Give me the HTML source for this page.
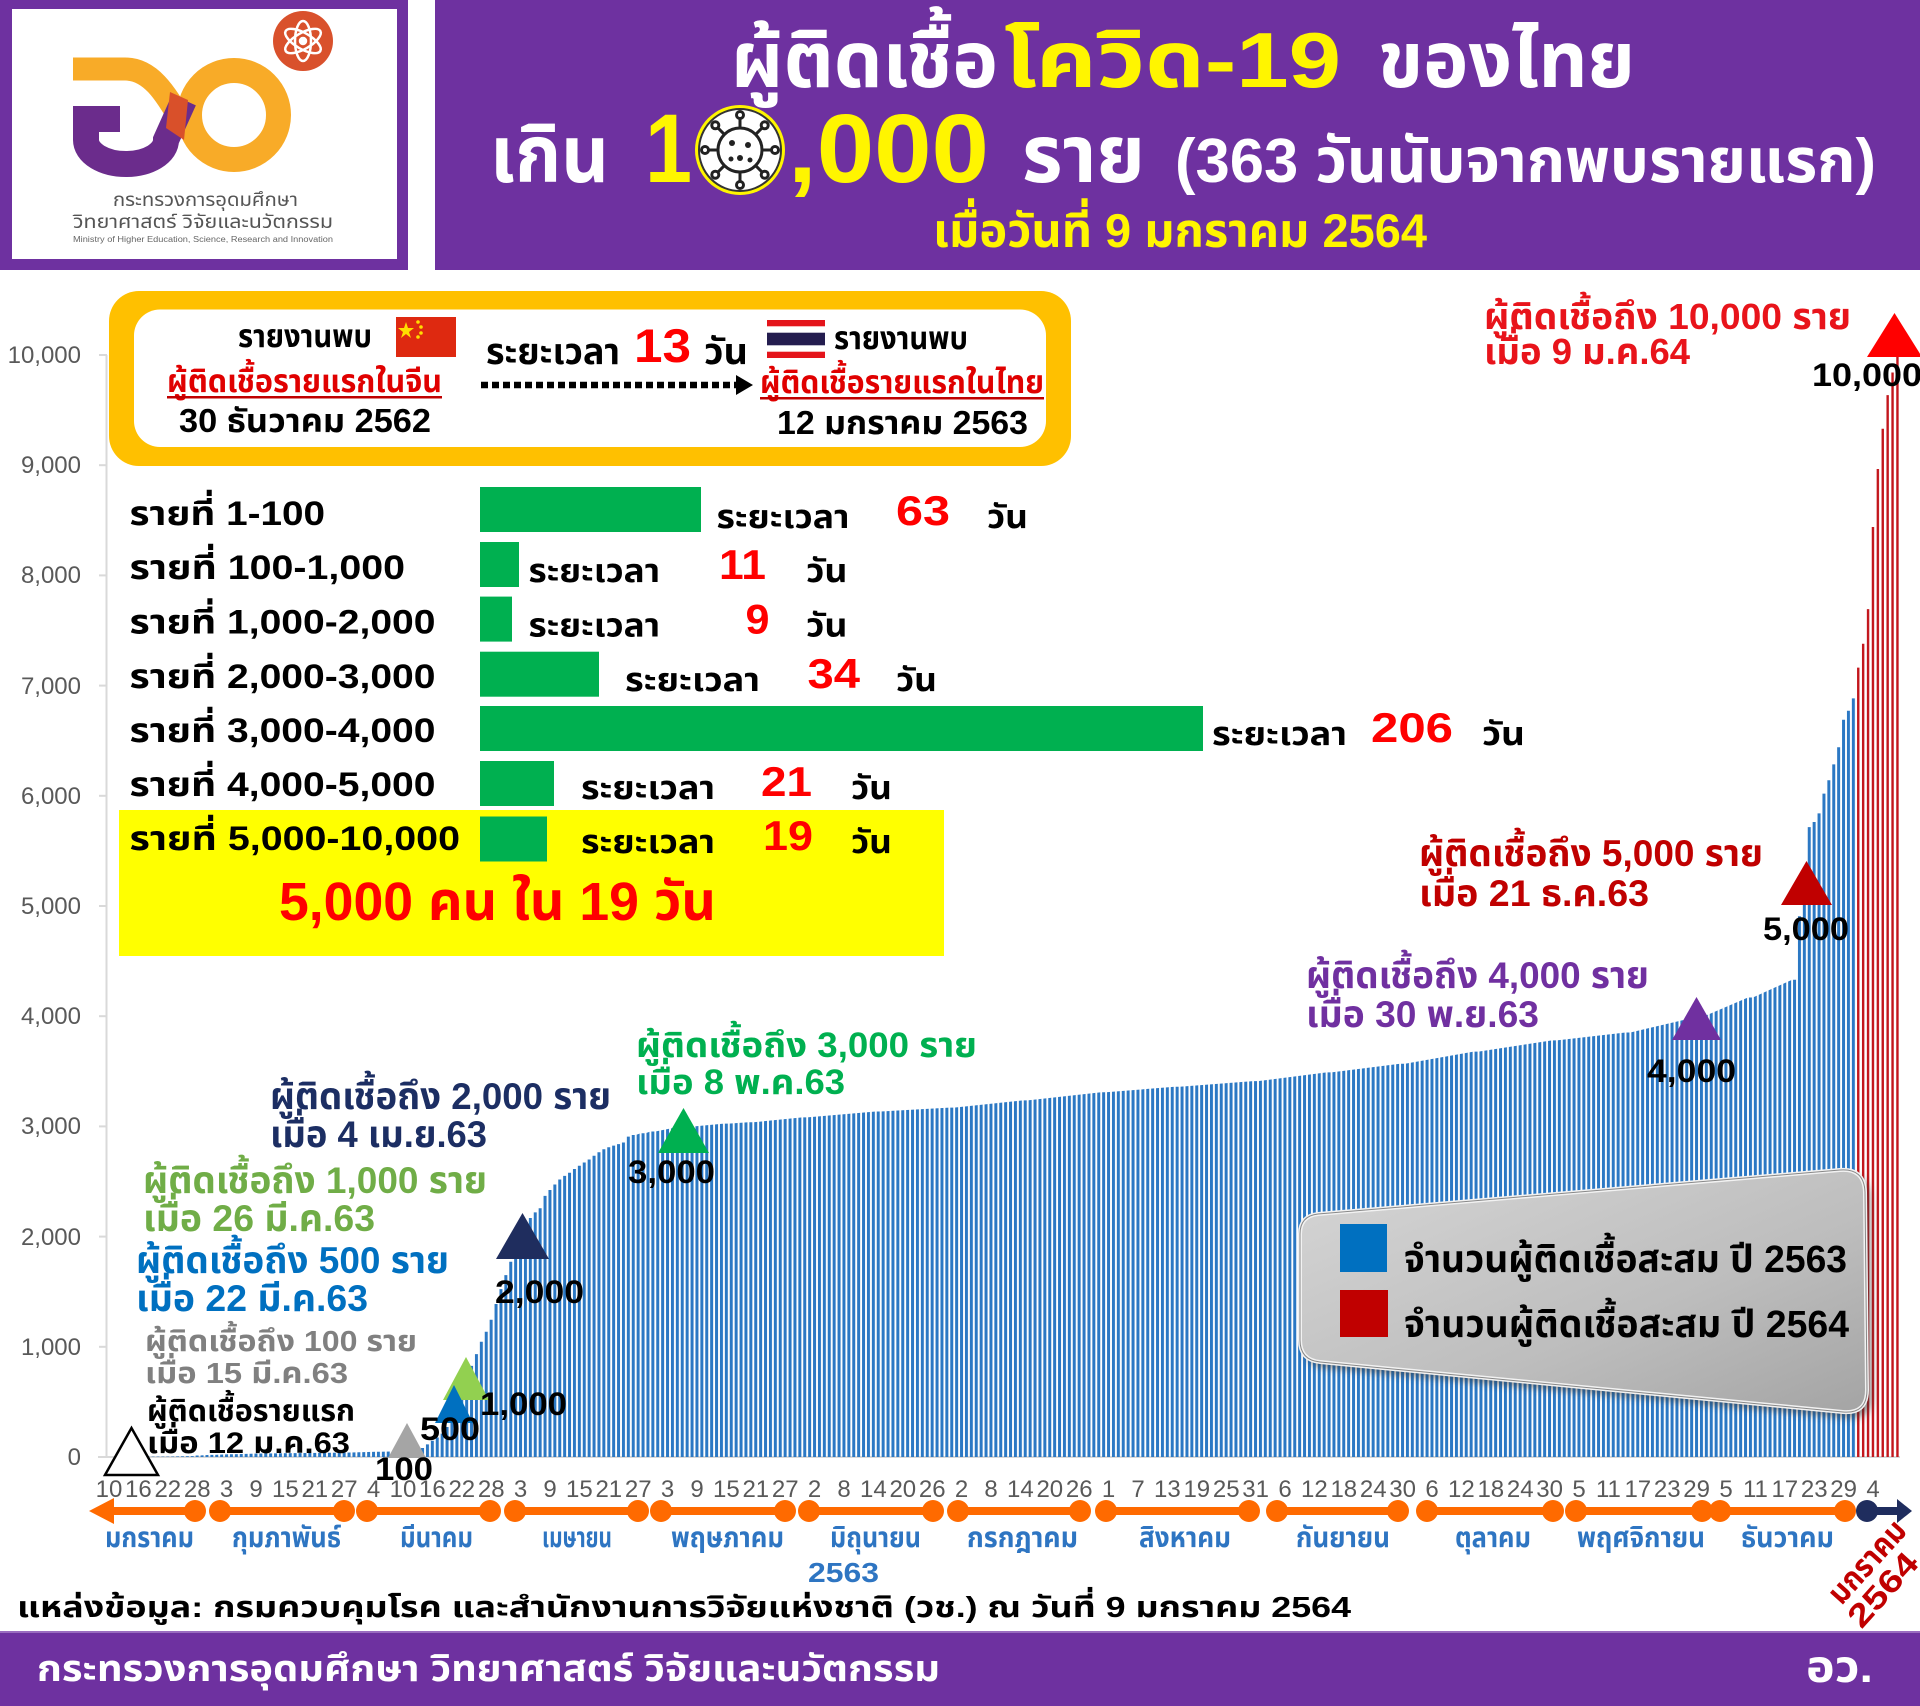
<!DOCTYPE html>
<html><head><meta charset="utf-8">
<style>
html,body{margin:0;padding:0;background:#fff;}
svg{display:block;font-family:"Liberation Sans","Noto Sans Thai","Noto Sans Thai UI","Loma","Garuda","Waree","Kinnari","Norasi","Tlwg Typo","DejaVu Sans",sans-serif;}
</style></head><body>
<svg width="1920" height="1706" viewBox="0 0 1920 1706" xmlns="http://www.w3.org/2000/svg">
<defs>
<pattern id="pb" patternUnits="userSpaceOnUse" x="107.45" y="0" width="4.9" height="1706"><rect x="0" y="0" width="3" height="1706" fill="#2B78C4"/></pattern>
<pattern id="pr" patternUnits="userSpaceOnUse" x="107.75" y="0" width="4.9" height="1706"><rect x="0" y="0" width="2.4" height="1706" fill="#C3161C"/></pattern>
<linearGradient id="lg" x1="0" y1="0" x2="1" y2="1"><stop offset="0" stop-color="#D6D6D6"/><stop offset="0.6" stop-color="#BDBDBD"/><stop offset="1" stop-color="#A4A4A4"/></linearGradient>
<filter id="sh" x="-10%" y="-10%" width="120%" height="130%"><feGaussianBlur stdDeviation="4"/></filter>
</defs>

<!-- HEADER -->
<rect x="0" y="0" width="1920" height="270" fill="#6E31A0"/>
<rect x="408" y="0" width="27" height="272" fill="#fff"/>
<rect x="12" y="9" width="385" height="250" fill="#fff"/>
<!-- logo mark -->
<circle cx="234" cy="115" r="44.5" fill="none" stroke="#F8AB28" stroke-width="25"/>
<path d="M73,69 H125 C150,69 165,92 182,122" fill="none" stroke="#F8AB28" stroke-width="23"/>
<path d="M120,119 H86 V140 A40,24 0 0 0 166,140 L184,100" fill="none" stroke="#6B2C8C" stroke-width="26"/>
<polygon points="170,92 188,100 184,140 166,128" fill="#D9502A"/>
<circle cx="303" cy="41" r="30" fill="#D9512C"/>
<g transform="translate(303,41)" fill="none" stroke="#fff" stroke-width="2.5">
<ellipse rx="8" ry="20"/><ellipse rx="8" ry="20" transform="rotate(60)"/><ellipse rx="8" ry="20" transform="rotate(-60)"/>
<circle r="3" fill="#fff"/>
</g>
<text x="113" y="206" font-size="19" fill="#555" textLength="185" lengthAdjust="spacingAndGlyphs">กระทรวงการอุดมศึกษา</text>
<text x="73" y="228" font-size="19" fill="#555" textLength="260" lengthAdjust="spacingAndGlyphs">วิทยาศาสตร์ วิจัยและนวัตกรรม</text>
<text x="73" y="242" font-size="8" fill="#666" textLength="260" lengthAdjust="spacingAndGlyphs">Ministry of Higher Education, Science, Research and Innovation</text>

<g font-weight="bold">
<text x="731" y="87" font-size="78" fill="#fff" textLength="267" lengthAdjust="spacingAndGlyphs">ผู้ติดเชื้อ</text>
<text x="1004" y="87" font-size="78" fill="#FFF500" textLength="337" lengthAdjust="spacingAndGlyphs">โควิด-19</text>
<text x="1378" y="87" font-size="78" fill="#fff" textLength="257" lengthAdjust="spacingAndGlyphs">ของไทย</text>
<text x="490" y="182" font-size="80" fill="#fff" textLength="119" lengthAdjust="spacingAndGlyphs">เกิน</text>
<text x="645" y="182" font-size="97" fill="#FFF500" textLength="47" lengthAdjust="spacingAndGlyphs">1</text>
<text x="788" y="182" font-size="97" fill="#FFF500" textLength="201" lengthAdjust="spacingAndGlyphs">,000</text>
<text x="1022" y="182" font-size="80" fill="#fff" textLength="123" lengthAdjust="spacingAndGlyphs">ราย</text>
<text x="1175" y="182" font-size="62" fill="#fff" textLength="701" lengthAdjust="spacingAndGlyphs">(363 วันนับจากพบรายแรก)</text>
<text x="933" y="247" font-size="47" fill="#FFF500" textLength="494" lengthAdjust="spacingAndGlyphs">เมื่อวันที่ 9 มกราคม 2564</text>
</g>
<!-- virus icon -->
<g transform="translate(740,150)">
<circle r="45" fill="#FFF500"/>
<circle r="41" fill="#fff" stroke="#333" stroke-width="2"/>
<circle r="22" fill="none" stroke="#222" stroke-width="3"/>
<g stroke="#222" stroke-width="3" fill="#fff">
<line x1="0" y1="-22" x2="0" y2="-33"/><line x1="0" y1="22" x2="0" y2="33"/>
<line x1="-22" y1="0" x2="-33" y2="0"/><line x1="22" y1="0" x2="33" y2="0"/>
<line x1="15.6" y1="15.6" x2="23.3" y2="23.3"/><line x1="-15.6" y1="15.6" x2="-23.3" y2="23.3"/>
<line x1="15.6" y1="-15.6" x2="23.3" y2="-23.3"/><line x1="-15.6" y1="-15.6" x2="-23.3" y2="-23.3"/>
<circle cx="0" cy="-35" r="3.5"/><circle cx="0" cy="35" r="3.5"/><circle cx="-35" cy="0" r="3.5"/><circle cx="35" cy="0" r="3.5"/>
<circle cx="24.7" cy="24.7" r="3.5"/><circle cx="-24.7" cy="24.7" r="3.5"/><circle cx="24.7" cy="-24.7" r="3.5"/><circle cx="-24.7" cy="-24.7" r="3.5"/>
</g>
<g fill="#222"><circle cx="-8" cy="-7" r="3"/><circle cx="8" cy="-5" r="3"/><circle cx="0" cy="8" r="3"/><circle cx="-9" cy="9" r="2.5"/><circle cx="10" cy="10" r="2.5"/></g>
</g>

<!-- AXES -->
<line x1="106.5" y1="355" x2="106.5" y2="1457" stroke="#D9D9D9" stroke-width="2"/>
<line x1="98" y1="1457" x2="1900" y2="1457" stroke="#D9D9D9" stroke-width="2"/>
<g stroke="#D9D9D9" stroke-width="2">
<line x1="99" y1="1346.8" x2="107" y2="1346.8"/><line x1="99" y1="1236.6" x2="107" y2="1236.6"/>
<line x1="99" y1="1126.4" x2="107" y2="1126.4"/><line x1="99" y1="1016.2" x2="107" y2="1016.2"/>
<line x1="99" y1="906" x2="107" y2="906"/><line x1="99" y1="795.8" x2="107" y2="795.8"/>
<line x1="99" y1="685.6" x2="107" y2="685.6"/><line x1="99" y1="575.4" x2="107" y2="575.4"/>
<line x1="99" y1="465.2" x2="107" y2="465.2"/><line x1="99" y1="355" x2="107" y2="355"/>
</g>
<g font-size="24" fill="#595959" text-anchor="end">
<text x="81" y="1465">0</text>
<text x="81" y="1355">1,000</text>
<text x="81" y="1245">2,000</text>
<text x="81" y="1134">3,000</text>
<text x="81" y="1024">4,000</text>
<text x="81" y="914">5,000</text>
<text x="81" y="804">6,000</text>
<text x="81" y="694">7,000</text>
<text x="81" y="583">8,000</text>
<text x="81" y="473">9,000</text>
<text x="81" y="363">10,000</text>
</g>

<!-- BARS -->
<path fill="url(#pb)" d="M106.5,1457 L116.3,1457 L116.3,1456.9 L121.2,1456.9 L121.2,1456.8 L126.1,1456.8 L165.3,1456.6 L170.2,1456.6 L189.8,1456.1 L194.7,1456.1 L194.7,1455.5 L199.6,1455.5 L209.4,1454.9 L214.3,1454.9 L229,1454.2 L233.9,1454.2 L258.4,1453.5 L263.3,1453.5 L292.7,1453.1 L297.6,1453.1 L341.7,1452.6 L346.6,1452.6 L376,1451.8 L380.9,1451.8 L400.5,1451.2 L405.4,1451.2 L410.3,1449.3 L415.2,1449.3 L415.2,1448.7 L420.1,1448.7 L420.1,1448 L425,1448 L425,1444.4 L429.9,1444.4 L429.9,1440.8 L434.8,1440.8 L434.8,1437.5 L439.7,1437.5 L439.7,1433.6 L444.6,1433.6 L444.6,1427 L449.5,1427 L449.5,1421.5 L454.4,1421.5 L454.4,1411.7 L459.3,1411.7 L459.3,1391 L464.2,1391 L464.2,1377.5 L469.1,1377.5 L469.1,1365.9 L474,1365.9 L474,1354.1 L478.9,1354.1 L478.9,1341.8 L483.8,1341.8 L483.8,1331.8 L488.7,1331.8 L488.7,1319.8 L493.6,1319.8 L493.6,1304 L498.5,1304 L498.5,1289.1 L503.4,1289.1 L503.4,1275.1 L508.3,1275.1 L508.3,1261.8 L513.2,1261.8 L513.2,1250.4 L518.1,1250.4 L518.1,1239 L523,1239 L523,1229.2 L527.9,1229.2 L527.9,1218 L532.8,1218 L532.8,1212.4 L537.7,1212.4 L537.7,1208.2 L542.6,1208.2 L542.6,1195.9 L547.5,1195.9 L547.5,1190 L552.4,1190 L552.4,1184.5 L557.3,1184.5 L557.3,1179.5 L562.2,1179.5 L562.2,1175.9 L567.1,1175.9 L567.1,1172.8 L572,1172.8 L572,1169 L576.9,1169 L576.9,1165.7 L581.8,1165.7 L581.8,1162.5 L586.7,1162.5 L586.7,1159.5 L591.6,1159.5 L591.6,1155.8 L596.5,1155.8 L596.5,1152.3 L601.4,1152.3 L601.4,1149.3 L606.3,1149.3 L606.3,1147.2 L611.2,1147.2 L611.2,1145.6 L616.1,1145.6 L616.1,1144.1 L621,1144.1 L621,1142.5 L625.9,1142.5 L625.9,1136.6 L630.8,1136.6 L630.8,1135 L635.7,1135 L640.6,1133.2 L645.5,1133.2 L650.4,1131.5 L655.3,1131.5 L674.9,1127.6 L679.8,1127.6 L689.6,1126.4 L694.5,1126.4 L723.9,1123.6 L728.8,1123.6 L748.4,1122.3 L753.3,1122.3 L802.3,1117.4 L807.2,1117.4 L875.8,1111.5 L880.7,1111.5 L949.3,1107.6 L954.2,1107.6 L1022.8,1100.4 L1027.7,1100.4 L1101.2,1092.2 L1106.1,1092.2 L1174.7,1086.8 L1179.6,1086.8 L1253.1,1081.1 L1258,1081.1 L1326.6,1072.4 L1331.5,1072.4 L1400.1,1063.7 L1405,1063.7 L1473.6,1051.6 L1478.5,1051.6 L1552,1040.4 L1556.9,1040.4 L1625.5,1032.5 L1630.4,1032.5 L1699,1016.4 L1703.9,1016.4 L1748,997.5 L1752.9,997.5 L1792.1,979.7 L1797,979.7 L1797,916.2 L1801.9,916.2 L1801.9,874.2 L1806.8,874.2 L1806.8,827.1 L1811.7,827.1 L1811.7,822 L1816.6,822 L1816.6,813.4 L1821.5,813.4 L1821.5,793.6 L1826.4,793.6 L1826.4,780.3 L1831.3,780.3 L1831.3,764.4 L1836.2,764.4 L1836.2,747.3 L1841.1,747.3 L1841.1,719.8 L1846,719.8 L1846,710.7 L1850.9,710.7 L1850.9,698.4 L1855.8,698.4 L1855.8,1457 Z"/>
<path fill="url(#pr)" d="M1855.8,1457 L1855.8,667.6 L1860.7,667.6 L1860.7,643.8 L1865.6,643.8 L1865.6,609.1 L1870.5,609.1 L1870.5,527 L1875.4,527 L1875.4,469 L1880.3,469 L1880.3,428.7 L1885.2,428.7 L1885.2,395.1 L1890.1,395.1 L1890.1,372.5 L1895,372.5 L1895,349.2 L1899.9,349.2 L1899.9,1457 Z"/>

<!-- INFO BOX -->
<rect x="109" y="291" width="962" height="175" rx="30" fill="#FFC000"/>
<rect x="134" y="309.5" width="912" height="137.5" rx="26" fill="#fff"/>
<g font-weight="bold">
<text x="238" y="347" font-size="32" fill="#000" textLength="134" lengthAdjust="spacingAndGlyphs">รายงานพบ</text>
<text x="167" y="392" font-size="32" fill="#E00000" textLength="275" lengthAdjust="spacingAndGlyphs">ผู้ติดเชื้อรายแรกในจีน</text>
<text x="179" y="432" font-size="33" fill="#000" textLength="252" lengthAdjust="spacingAndGlyphs">30 ธันวาคม 2562</text>
<text x="486" y="364" font-size="36" fill="#000" textLength="134" lengthAdjust="spacingAndGlyphs">ระยะเวลา</text>
<text x="634" y="362" font-size="47" fill="#FF0000" textLength="57" lengthAdjust="spacingAndGlyphs">13</text>
<text x="704" y="364" font-size="36" fill="#000" textLength="44" lengthAdjust="spacingAndGlyphs">วัน</text>
<text x="834" y="349" font-size="32" fill="#000" textLength="134" lengthAdjust="spacingAndGlyphs">รายงานพบ</text>
<text x="760" y="393" font-size="32" fill="#E00000" textLength="284" lengthAdjust="spacingAndGlyphs">ผู้ติดเชื้อรายแรกในไทย</text>
<text x="777" y="434" font-size="33" fill="#000" textLength="251" lengthAdjust="spacingAndGlyphs">12 มกราคม 2563</text>
</g>
<rect x="167" y="396" width="275" height="2.5" fill="#C00000"/>
<rect x="760" y="397" width="284" height="2.5" fill="#C00000"/>
<!-- flags -->
<rect x="396" y="317" width="60" height="40" fill="#DE2910"/>
<polygon points="406,322 408,328 414,328 409,332 411,338 406,334 401,338 403,332 398,328 404,328" fill="#FFDE00"/>
<circle cx="418" cy="322" r="1.8" fill="#FFDE00"/><circle cx="421" cy="327" r="1.8" fill="#FFDE00"/><circle cx="421" cy="333" r="1.8" fill="#FFDE00"/><circle cx="418" cy="337" r="1.8" fill="#FFDE00"/>
<rect x="767" y="320" width="58" height="38" fill="#fff"/>
<rect x="767" y="320" width="58" height="6.3" fill="#E4141B"/>
<rect x="767" y="332.7" width="58" height="12.6" fill="#241D4F"/>
<rect x="767" y="351.7" width="58" height="6.3" fill="#E4141B"/>
<!-- dotted arrow -->
<line x1="481" y1="385" x2="738" y2="385" stroke="#000" stroke-width="6.5" stroke-dasharray="7 4"/>
<polygon points="736,375 753,385 736,395" fill="#000"/>

<!-- ROWS -->
<rect x="119" y="810" width="825" height="146" fill="#FFFF00"/>
<g fill="#00B050">
<rect x="480" y="487" width="221" height="45"/>
<rect x="480" y="542" width="39" height="45"/>
<rect x="480" y="596.6" width="32" height="45"/>
<rect x="480" y="651.7" width="119" height="45"/>
<rect x="480" y="706" width="723" height="45"/>
<rect x="480" y="761" width="74" height="45"/>
<rect x="480" y="816.5" width="67" height="45"/>
</g>
<g font-weight="bold" font-size="34" fill="#000">
<text x="129.5" y="525" textLength="195.5" lengthAdjust="spacingAndGlyphs">รายที่ 1-100</text>
<text x="129.5" y="579" textLength="275.5" lengthAdjust="spacingAndGlyphs">รายที่ 100-1,000</text>
<text x="129.5" y="633.5" textLength="306" lengthAdjust="spacingAndGlyphs">รายที่ 1,000-2,000</text>
<text x="129.5" y="688" textLength="306" lengthAdjust="spacingAndGlyphs">รายที่ 2,000-3,000</text>
<text x="129.5" y="742" textLength="306" lengthAdjust="spacingAndGlyphs">รายที่ 3,000-4,000</text>
<text x="129.5" y="796" textLength="306" lengthAdjust="spacingAndGlyphs">รายที่ 4,000-5,000</text>
<text x="129.5" y="850" textLength="330.5" lengthAdjust="spacingAndGlyphs">รายที่ 5,000-10,000</text>
</g>
<g font-weight="bold" font-size="33" fill="#000">
<text x="716.5" y="528" textLength="133" lengthAdjust="spacingAndGlyphs">ระยะเวลา</text>
<text x="987" y="528" textLength="41" lengthAdjust="spacingAndGlyphs">วัน</text>
<text x="528.5" y="582" textLength="131.5" lengthAdjust="spacingAndGlyphs">ระยะเวลา</text>
<text x="806" y="582" textLength="41.5" lengthAdjust="spacingAndGlyphs">วัน</text>
<text x="528.5" y="636.5" textLength="131.5" lengthAdjust="spacingAndGlyphs">ระยะเวลา</text>
<text x="806" y="636.5" textLength="41.5" lengthAdjust="spacingAndGlyphs">วัน</text>
<text x="625" y="691" textLength="135" lengthAdjust="spacingAndGlyphs">ระยะเวลา</text>
<text x="896" y="691" textLength="41" lengthAdjust="spacingAndGlyphs">วัน</text>
<text x="1212" y="745" textLength="135" lengthAdjust="spacingAndGlyphs">ระยะเวลา</text>
<text x="1482" y="745" textLength="43" lengthAdjust="spacingAndGlyphs">วัน</text>
<text x="581" y="799" textLength="134" lengthAdjust="spacingAndGlyphs">ระยะเวลา</text>
<text x="851" y="799" textLength="41" lengthAdjust="spacingAndGlyphs">วัน</text>
<text x="581" y="853" textLength="134" lengthAdjust="spacingAndGlyphs">ระยะเวลา</text>
<text x="851" y="853" textLength="41" lengthAdjust="spacingAndGlyphs">วัน</text>
</g>
<g font-weight="bold" font-size="42" fill="#FF0000">
<text x="896" y="525" textLength="54" lengthAdjust="spacingAndGlyphs">63</text>
<text x="719" y="579" textLength="47" lengthAdjust="spacingAndGlyphs">11</text>
<text x="745.5" y="633.5" textLength="24" lengthAdjust="spacingAndGlyphs">9</text>
<text x="807.5" y="688" textLength="52.5" lengthAdjust="spacingAndGlyphs">34</text>
<text x="1371" y="742" textLength="82" lengthAdjust="spacingAndGlyphs">206</text>
<text x="761" y="796" textLength="51" lengthAdjust="spacingAndGlyphs">21</text>
<text x="763" y="850" textLength="50" lengthAdjust="spacingAndGlyphs">19</text>
</g>
<text x="279" y="920" font-weight="bold" font-size="54" fill="#FF0000" textLength="437" lengthAdjust="spacingAndGlyphs">5,000 คน ใน 19 วัน</text>

<!-- TRIANGLES -->
<polygon points="105,1475 158,1475 131.5,1428" fill="#fff" stroke="#000" stroke-width="2.5"/>
<polygon points="388,1458 426,1458 407,1423" fill="#A5A5A5"/>
<polygon points="443,1400 489,1400 466,1357" fill="#92D050"/>
<polygon points="435,1423 473,1423 454,1385" fill="#0070C0"/>
<polygon points="496,1259 549,1259 522.5,1213" fill="#1F2D5E"/>
<polygon points="658,1153 709,1153 683.5,1108" fill="#00B050"/>
<polygon points="1672,1040 1721,1040 1696.5,997" fill="#7030A0"/>
<polygon points="1781,905 1832,905 1806.5,861" fill="#C00000"/>
<polygon points="1867,357 1922,357 1894.5,313" fill="#FF0000"/>

<!-- ANNOTATIONS -->
<g font-weight="bold">
<text x="1484" y="329" font-size="36" fill="#E8141B" textLength="367" lengthAdjust="spacingAndGlyphs">ผู้ติดเชื้อถึง 10,000 ราย</text>
<text x="1484" y="364" font-size="36" fill="#E8141B" textLength="206" lengthAdjust="spacingAndGlyphs">เมื่อ 9 ม.ค.64</text>
<text x="1419" y="866" font-size="37" fill="#C00000" textLength="344" lengthAdjust="spacingAndGlyphs">ผู้ติดเชื้อถึง 5,000 ราย</text>
<text x="1419" y="906" font-size="37" fill="#C00000" textLength="230" lengthAdjust="spacingAndGlyphs">เมื่อ 21 ธ.ค.63</text>
<text x="1306" y="988" font-size="37" fill="#7030A0" textLength="343" lengthAdjust="spacingAndGlyphs">ผู้ติดเชื้อถึง 4,000 ราย</text>
<text x="1306" y="1027" font-size="37" fill="#7030A0" textLength="233" lengthAdjust="spacingAndGlyphs">เมื่อ 30 พ.ย.63</text>
<text x="636" y="1057" font-size="35" fill="#00B050" textLength="341" lengthAdjust="spacingAndGlyphs">ผู้ติดเชื้อถึง 3,000 ราย</text>
<text x="636" y="1094" font-size="35" fill="#00B050" textLength="209" lengthAdjust="spacingAndGlyphs">เมื่อ 8 พ.ค.63</text>
<text x="270" y="1109" font-size="37" fill="#1C2E63" textLength="341" lengthAdjust="spacingAndGlyphs">ผู้ติดเชื้อถึง 2,000 ราย</text>
<text x="270" y="1147" font-size="37" fill="#1C2E63" textLength="217" lengthAdjust="spacingAndGlyphs">เมื่อ 4 เม.ย.63</text>
<text x="143" y="1193" font-size="37" fill="#70AD47" textLength="344" lengthAdjust="spacingAndGlyphs">ผู้ติดเชื้อถึง 1,000 ราย</text>
<text x="143" y="1231" font-size="37" fill="#70AD47" textLength="232" lengthAdjust="spacingAndGlyphs">เมื่อ 26 มี.ค.63</text>
<text x="136" y="1273" font-size="37" fill="#0070C0" textLength="313" lengthAdjust="spacingAndGlyphs">ผู้ติดเชื้อถึง 500 ราย</text>
<text x="136" y="1311" font-size="37" fill="#0070C0" textLength="232" lengthAdjust="spacingAndGlyphs">เมื่อ 22 มี.ค.63</text>
<text x="145" y="1351" font-size="29" fill="#808080" textLength="272" lengthAdjust="spacingAndGlyphs">ผู้ติดเชื้อถึง 100 ราย</text>
<text x="145" y="1383" font-size="29" fill="#808080" textLength="203" lengthAdjust="spacingAndGlyphs">เมื่อ 15 มี.ค.63</text>
<text x="147" y="1421" font-size="30" fill="#000" textLength="208" lengthAdjust="spacingAndGlyphs">ผู้ติดเชื้อรายแรก</text>
<text x="147" y="1453" font-size="30" fill="#000" textLength="203" lengthAdjust="spacingAndGlyphs">เมื่อ 12 ม.ค.63</text>
</g>
<g font-weight="bold" font-size="32" fill="#000">
<text x="1812" y="386" textLength="110" lengthAdjust="spacingAndGlyphs">10,000</text>
<text x="1763" y="940" textLength="86" lengthAdjust="spacingAndGlyphs">5,000</text>
<text x="1647" y="1082" textLength="89" lengthAdjust="spacingAndGlyphs">4,000</text>
<text x="628" y="1183" textLength="87" lengthAdjust="spacingAndGlyphs">3,000</text>
<text x="495" y="1303" textLength="89" lengthAdjust="spacingAndGlyphs">2,000</text>
<text x="480" y="1415" textLength="87" lengthAdjust="spacingAndGlyphs">1,000</text>
<text x="420" y="1440" textLength="60" lengthAdjust="spacingAndGlyphs">500</text>
<text x="375" y="1480" textLength="58" lengthAdjust="spacingAndGlyphs">100</text>
</g>

<!-- LEGEND -->
<path d="M1318,1214 L1840,1170 Q1864,1168 1865,1192 L1867,1390 Q1867,1414 1843,1412 L1320,1362 Q1300,1360 1300,1340 L1300,1234 Q1300,1216 1318,1214 Z" fill="#333" opacity="0.55" transform="translate(5,6)" filter="url(#sh)"/>
<path d="M1318,1214 L1840,1170 Q1864,1168 1865,1192 L1867,1390 Q1867,1414 1843,1412 L1320,1362 Q1300,1360 1300,1340 L1300,1234 Q1300,1216 1318,1214 Z" fill="url(#lg)" stroke="#F2F2F2" stroke-width="4"/>
<path d="M1318,1214 L1840,1170 Q1864,1168 1865,1192 L1867,1390 Q1867,1414 1843,1412 L1320,1362 Q1300,1360 1300,1340 L1300,1234 Q1300,1216 1318,1214 Z" fill="none" stroke="#888" stroke-width="1"/>
<rect x="1340" y="1224" width="47" height="48" fill="#0070C0"/>
<rect x="1340" y="1290" width="48" height="47" fill="#C00000"/>
<g font-weight="bold" font-size="38" fill="#000">
<text x="1404" y="1272" textLength="443" lengthAdjust="spacingAndGlyphs">จำนวนผู้ติดเชื้อสะสม ปี 2563</text>
<text x="1404" y="1337" textLength="445" lengthAdjust="spacingAndGlyphs">จำนวนผู้ติดเชื้อสะสม ปี 2564</text>
</g>

<!-- X LABELS -->
<g font-size="24" fill="#595959" text-anchor="middle">
<text x="109" y="1497">10</text><text x="138.4" y="1497">16</text><text x="167.8" y="1497">22</text><text x="197.2" y="1497">28</text>
<text x="226.6" y="1497">3</text><text x="256" y="1497">9</text><text x="285.4" y="1497">15</text><text x="314.8" y="1497">21</text><text x="344.2" y="1497">27</text>
<text x="373.6" y="1497">4</text><text x="403" y="1497">10</text><text x="432.4" y="1497">16</text><text x="461.8" y="1497">22</text><text x="491.2" y="1497">28</text>
<text x="520.6" y="1497">3</text><text x="550" y="1497">9</text><text x="579.4" y="1497">15</text><text x="608.8" y="1497">21</text><text x="638.2" y="1497">27</text>
<text x="667.6" y="1497">3</text><text x="697" y="1497">9</text><text x="726.4" y="1497">15</text><text x="755.8" y="1497">21</text><text x="785.2" y="1497">27</text>
<text x="814.6" y="1497">2</text><text x="844" y="1497">8</text><text x="873.4" y="1497">14</text><text x="902.8" y="1497">20</text><text x="932.2" y="1497">26</text>
<text x="961.6" y="1497">2</text><text x="991" y="1497">8</text><text x="1020.4" y="1497">14</text><text x="1049.8" y="1497">20</text><text x="1079.2" y="1497">26</text>
<text x="1108.6" y="1497">1</text><text x="1138" y="1497">7</text><text x="1167.4" y="1497">13</text><text x="1196.8" y="1497">19</text><text x="1226.2" y="1497">25</text><text x="1255.6" y="1497">31</text>
<text x="1285" y="1497">6</text><text x="1314.4" y="1497">12</text><text x="1343.8" y="1497">18</text><text x="1373.2" y="1497">24</text><text x="1402.6" y="1497">30</text>
<text x="1432" y="1497">6</text><text x="1461.4" y="1497">12</text><text x="1490.8" y="1497">18</text><text x="1520.2" y="1497">24</text><text x="1549.6" y="1497">30</text>
<text x="1579" y="1497">5</text><text x="1608.4" y="1497">11</text><text x="1637.8" y="1497">17</text><text x="1667.2" y="1497">23</text><text x="1696.6" y="1497">29</text>
<text x="1726" y="1497">5</text><text x="1755.4" y="1497">11</text><text x="1784.8" y="1497">17</text><text x="1814.2" y="1497">23</text><text x="1843.6" y="1497">29</text>
<text x="1873" y="1497">4</text>
</g>

<!-- TIMELINE -->
<g fill="#FF6A00">
<polygon points="89,1511 114,1498 114,1524"/>
<rect x="110" y="1507" width="85" height="8"/><circle cx="195" cy="1511" r="11"/>
<circle cx="220" cy="1511" r="11"/><rect x="220" y="1507" width="124" height="8"/><circle cx="344" cy="1511" r="11"/>
<circle cx="367" cy="1511" r="11"/><rect x="367" y="1507" width="123" height="8"/><circle cx="490" cy="1511" r="11"/>
<circle cx="515" cy="1511" r="11"/><rect x="515" y="1507" width="123" height="8"/><circle cx="638" cy="1511" r="11"/>
<circle cx="661" cy="1511" r="11"/><rect x="661" y="1507" width="124" height="8"/><circle cx="785" cy="1511" r="11"/>
<circle cx="809" cy="1511" r="11"/><rect x="809" y="1507" width="124" height="8"/><circle cx="933" cy="1511" r="11"/>
<circle cx="958" cy="1511" r="11"/><rect x="958" y="1507" width="122" height="8"/><circle cx="1080" cy="1511" r="11"/>
<circle cx="1106" cy="1511" r="11"/><rect x="1106" y="1507" width="143" height="8"/><circle cx="1249" cy="1511" r="11"/>
<circle cx="1277" cy="1511" r="11"/><rect x="1277" y="1507" width="121" height="8"/><circle cx="1398" cy="1511" r="11"/>
<circle cx="1427" cy="1511" r="11"/><rect x="1427" y="1507" width="126" height="8"/><circle cx="1553" cy="1511" r="11"/>
<circle cx="1576" cy="1511" r="11"/><rect x="1576" y="1507" width="126" height="8"/><circle cx="1702" cy="1511" r="11"/>
<circle cx="1720" cy="1511" r="11"/><rect x="1720" y="1507" width="125" height="8"/><circle cx="1845" cy="1511" r="11"/>
</g>
<g fill="#1F2D5E">
<circle cx="1867" cy="1511" r="11"/><rect x="1867" y="1507" width="33" height="8"/><polygon points="1897,1499 1912,1511 1897,1523"/>
</g>
<g font-weight="bold" font-size="28" fill="#2E75C2">
<text x="105" y="1547" textLength="89" lengthAdjust="spacingAndGlyphs">มกราคม</text>
<text x="232" y="1547" textLength="109" lengthAdjust="spacingAndGlyphs">กุมภาพันธ์</text>
<text x="400" y="1547" textLength="73" lengthAdjust="spacingAndGlyphs">มีนาคม</text>
<text x="542" y="1547" textLength="70" lengthAdjust="spacingAndGlyphs">เมษายน</text>
<text x="671" y="1547" textLength="113" lengthAdjust="spacingAndGlyphs">พฤษภาคม</text>
<text x="830" y="1547" textLength="91" lengthAdjust="spacingAndGlyphs">มิถุนายน</text>
<text x="967" y="1547" textLength="111" lengthAdjust="spacingAndGlyphs">กรกฎาคม</text>
<text x="1139" y="1547" textLength="92" lengthAdjust="spacingAndGlyphs">สิงหาคม</text>
<text x="1296" y="1547" textLength="94" lengthAdjust="spacingAndGlyphs">กันยายน</text>
<text x="1455" y="1547" textLength="76" lengthAdjust="spacingAndGlyphs">ตุลาคม</text>
<text x="1577" y="1547" textLength="128" lengthAdjust="spacingAndGlyphs">พฤศจิกายน</text>
<text x="1741" y="1547" textLength="93" lengthAdjust="spacingAndGlyphs">ธันวาคม</text>
<text x="808" y="1582" textLength="71" lengthAdjust="spacingAndGlyphs">2563</text>
</g>
<g font-weight="bold" font-size="32" fill="#C00000" text-anchor="middle">
<text transform="translate(1875,1569) rotate(-48)" textLength="100" lengthAdjust="spacingAndGlyphs">มกราคม</text>
<text transform="translate(1891,1597) rotate(-48)" textLength="88" lengthAdjust="spacingAndGlyphs">2564</text>
</g>

<!-- SOURCE -->
<text x="17" y="1617" font-weight="bold" font-size="29" fill="#000" textLength="1334" lengthAdjust="spacingAndGlyphs">แหล่งข้อมูล: กรมควบคุมโรค และสำนักงานการวิจัยแห่งชาติ (วช.) ณ วันที่ 9 มกราคม 2564</text>

<!-- FOOTER -->
<rect x="0" y="1631" width="1920" height="75" fill="#6E31A0"/>
<rect x="0" y="1631" width="1920" height="2" fill="#9A6CC0"/>
<text x="37" y="1681" font-weight="bold" font-size="36" fill="#fff" textLength="903" lengthAdjust="spacingAndGlyphs">กระทรวงการอุดมศึกษา วิทยาศาสตร์ วิจัยและนวัตกรรม</text>
<text x="1806" y="1682" font-weight="bold" font-size="44" fill="#fff" textLength="67" lengthAdjust="spacingAndGlyphs">อว.</text>
</svg>
</body></html>
